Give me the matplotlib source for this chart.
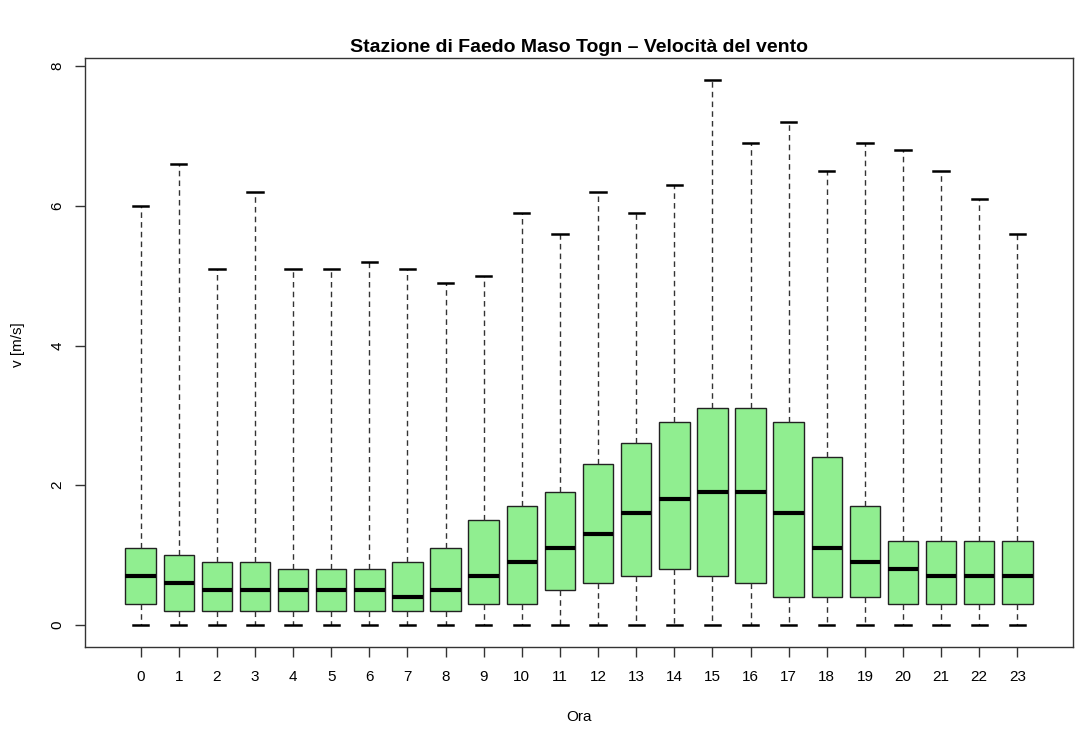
import matplotlib
matplotlib.use("Agg")
import matplotlib.pyplot as plt

hours = list(range(24))
q1 = [0.3, 0.2, 0.2, 0.2, 0.2, 0.2, 0.2, 0.2, 0.2, 0.3, 0.3, 0.5,
      0.6, 0.7, 0.8, 0.7, 0.6, 0.4, 0.4, 0.4, 0.3, 0.3, 0.3, 0.3]
med = [0.7, 0.6, 0.5, 0.5, 0.5, 0.5, 0.5, 0.4, 0.5, 0.7, 0.9, 1.1,
       1.3, 1.6, 1.8, 1.9, 1.9, 1.6, 1.1, 0.9, 0.8, 0.7, 0.7, 0.7]
q3 = [1.1, 1.0, 0.9, 0.9, 0.8, 0.8, 0.8, 0.9, 1.1, 1.5, 1.7, 1.9,
      2.3, 2.6, 2.9, 3.1, 3.1, 2.9, 2.4, 1.7, 1.2, 1.2, 1.2, 1.2]
whis_lo = [0.0] * 24
whis_hi = [6.0, 6.6, 5.1, 6.2, 5.1, 5.1, 5.2, 5.1, 4.9, 5.0, 5.9, 5.6,
           6.2, 5.9, 6.3, 7.8, 6.9, 7.2, 6.5, 6.9, 6.8, 6.5, 6.1, 5.6]
tick_labels = [str(h) for h in hours]

plt.rcParams['font.family'] = ['Liberation Sans', 'DejaVu Sans']

W, H = 1075, 736
fig = plt.figure(figsize=(W / 100, H / 100), dpi=100)
left, right, top, bottom = 85, 1073, 58.3, 646.7
ax = fig.add_axes([left / W, (H - bottom) / H, (right - left) / W, (bottom - top) / H])

stats = []
for i in range(24):
    stats.append(dict(med=med[i], q1=q1[i], q3=q3[i], whislo=whis_lo[i],
                      whishi=whis_hi[i], fliers=[], label=tick_labels[i]))

ax.bxp(stats, positions=hours, widths=0.8, capwidths=0.4, patch_artist=True,
       showfliers=False,
       boxprops=dict(facecolor='#90EE90', edgecolor='#222222', linewidth=1.0),
       medianprops=dict(color='black', linewidth=3.0, solid_capstyle='butt'),
       whiskerprops=dict(color='#333333', linewidth=1.0, linestyle=(0, (4, 3))),
       capprops=dict(color='black', linewidth=1.8))

ax.set_xlim(-1.46, 24.46)
ax.set_ylim(-0.312, 8.112)
ax.set_xticks(hours)
ax.set_xticklabels(tick_labels, fontsize=11)
ax.set_yticks([0, 2, 4, 6, 8])
ax.set_yticklabels(['0', '2', '4', '6', '8'], fontsize=11, rotation=90, va='center')
ax.tick_params(axis='both', direction='out', length=7, width=1, color='#333333', pad=8)
ax.tick_params(axis='x', pad=10)

for s in ax.spines.values():
    s.set_color('#333333')
    s.set_linewidth(1.0)

fig.text((left + right) / 2 / W, 1 - 47 / H,
         'Stazione di Faedo Maso Togn \u2013 Velocit\u00e0 del vento',
         ha='center', va='center', fontsize=14, fontweight='bold')
fig.text((left + right) / 2 / W, 1 - 717 / H, 'Ora', ha='center', va='center', fontsize=11)
fig.text(18 / W, 1 - 345 / H, 'v [m/s]', ha='center', va='center', rotation=90, fontsize=11)

fig.savefig('out.png', dpi=100)
